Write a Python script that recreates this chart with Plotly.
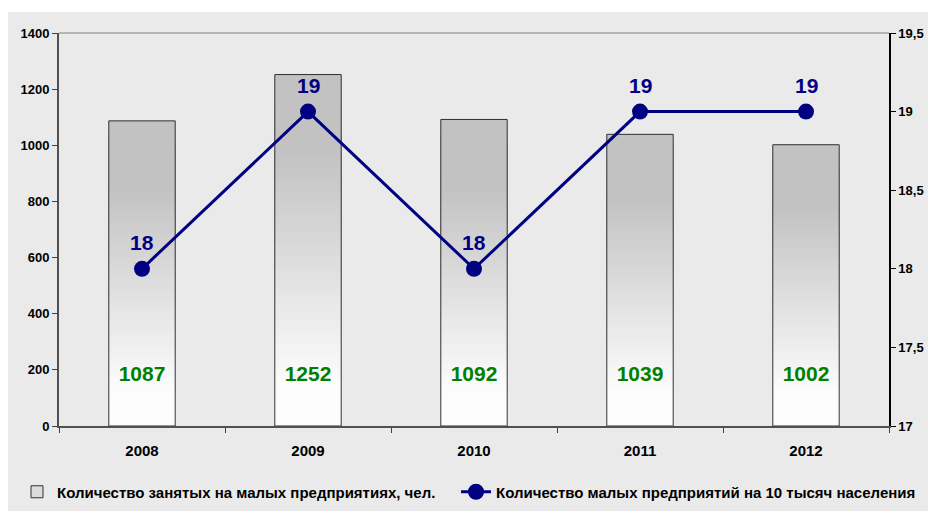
import plotly.graph_objects as go

YEARS = ["2008", "2009", "2010", "2011", "2012"]
EMPLOYED = [1087, 1252, 1092, 1039, 1002]
ENTERPRISES = [18, 19, 18, 19, 19]
BAR_NAME = "Количество занятых на малых предприятиях, чел."
LINE_NAME = "Количество малых предприятий на 10 тысяч населения"

FONT = "Liberation Sans, Arial, sans-serif"
N_SEG = 60
LABEL_Y = 178

fig = go.Figure()

def seg_color(f):
    t = min(max((f - 0.12) / 0.66, 0.0), 1.0)
    g = round(252 - (252 - 194) * t)
    return f"rgb({g},{g},{g})"

# gradient: tallest (top colour) first, shorter lighter bars drawn over it
for k in range(N_SEG):
    frac = (N_SEG - k) / N_SEG
    fig.add_trace(go.Bar(
        x=YEARS, y=[v * frac for v in EMPLOYED],
        width=0.4, marker=dict(color=seg_color(frac - 0.5 / N_SEG), line=dict(width=0)),
        showlegend=False, hoverinfo="skip"))

# outline
fig.add_trace(go.Bar(
    x=YEARS, y=EMPLOYED, width=0.4,
    marker=dict(color="rgba(0,0,0,0)", line=dict(color="#303030", width=1)),
    showlegend=False, hoverinfo="skip"))

# legend stand-in for bars
fig.add_trace(go.Bar(
    x=YEARS, y=[None] * len(YEARS), name=BAR_NAME,
    marker=dict(color="#dcdcdc", line=dict(color="#303030", width=1)),
    showlegend=True, legend="legend"))

# value labels in bars
fig.add_trace(go.Scatter(
    x=YEARS, y=[LABEL_Y] * len(YEARS), mode="text",
    text=[str(v) for v in EMPLOYED],
    textfont=dict(family=FONT, size=21, color="#008000", weight="bold"),
    showlegend=False, hoverinfo="skip"))

fig.add_trace(go.Scatter(
    x=YEARS, y=ENTERPRISES, yaxis="y2", name=LINE_NAME,
    mode="lines+markers",
    line=dict(color="#000080", width=3),
    marker=dict(color="#000080", size=16),
    legend="legend2"))

annotations = [
    dict(x=i, y=v, xref="x", yref="y2", text=str(v), showarrow=False,
         yshift=26, font=dict(family=FONT, size=21, color="#000080", weight="bold"))
    for i, v in enumerate(ENTERPRISES)
]

L, R, T, B = 59, 39, 33, 85
W, H = 928, 511
pw, ph = W - L - R, H - T - B

legend_common = dict(orientation="h", xref="container", yref="container",
                     xanchor="left", y=1 - 492 / H, yanchor="middle",
                     bgcolor="rgba(0,0,0,0)", font=dict(size=15, weight="bold"),
                     itemwidth=30)

fig.update_layout(
    width=W, height=H,
    margin=dict(l=L, r=R, t=T, b=B),
    paper_bgcolor="white", plot_bgcolor="#eaeaea",
    barmode="overlay", separators=", ",
    font=dict(family=FONT, size=13, color="black", weight="bold"),
    annotations=annotations,
    xaxis=dict(type="category", categoryorder="array", categoryarray=YEARS,
               range=[-0.5, len(YEARS) - 0.5],
               tickson="boundaries", ticks="outside", ticklen=5,
               tickcolor="#404040", showline=True, linecolor="#505050", linewidth=2,
               showgrid=False, tickfont=dict(size=15, weight="bold"),
               ticklabelstandoff=10, tickangle=0, automargin=False, fixedrange=True),
    yaxis=dict(range=[0, 1400], dtick=200, ticks="outside", ticklen=5,
               tickcolor="#404040", showline=True, linecolor="#505050", linewidth=2,
               showgrid=False, zeroline=False, automargin=False,
               tickfont=dict(size=13, weight="bold")),
    yaxis2=dict(range=[17, 19.5], dtick=0.5, overlaying="y", side="right",
                ticks="outside", ticklen=5, tickcolor="black", showline=True,
                linecolor="black", linewidth=1.5, showgrid=False, zeroline=False,
                automargin=False, tickfont=dict(size=13, weight="bold")),
    legend=dict(x=17 / W, **legend_common),
    legend2=dict(x=456 / W, **legend_common),
    shapes=[
        dict(type="rect", xref="paper", yref="paper", layer="below",
             x0=-(L - 8) / pw, x1=(W - L) / pw, y0=-B / ph, y1=(H - 12 - B) / ph,
             fillcolor="#eaeaea", line=dict(width=0)),
        dict(type="line", xref="paper", yref="paper", x0=0, x1=1, y0=1, y1=1,
             line=dict(color="#808080", width=1)),
    ],
)

fig.write_html("out.html")
